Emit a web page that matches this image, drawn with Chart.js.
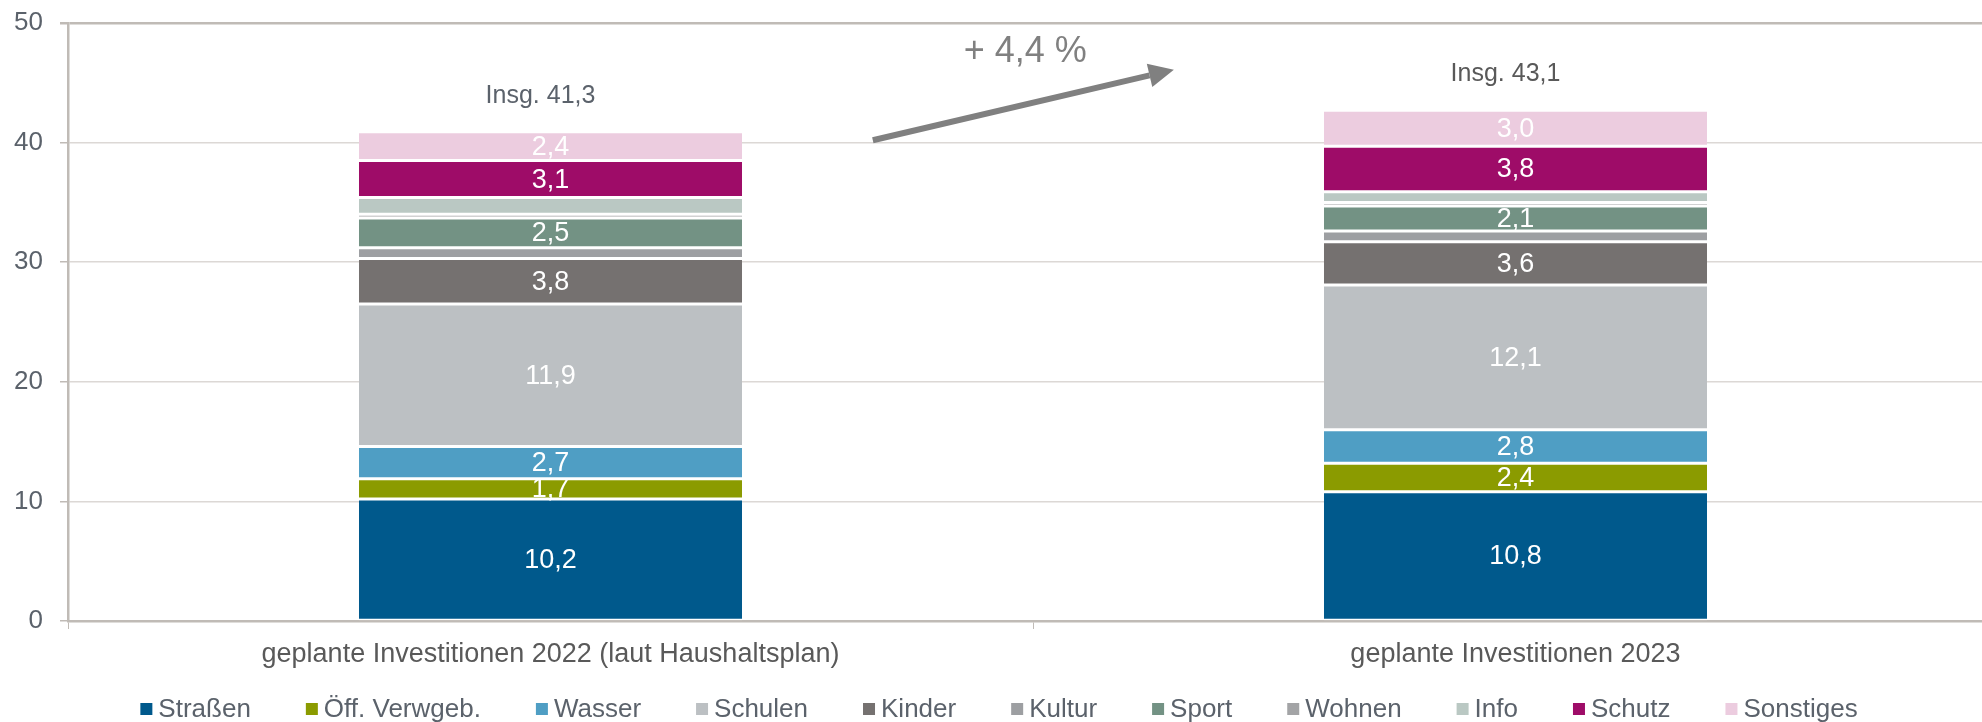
<!DOCTYPE html>
<html>
<head>
<meta charset="utf-8">
<script src="https://cdn.jsdelivr.net/npm/chart.js@4"></script>
<style>
    html, body { margin: 0; padding: 0; background: #fff; overflow: hidden; }
    #wrap { position: relative; width: 1998px; height: 722px; }
</style>
</head>
<body>
<div id="wrap"><canvas id="investChart"></canvas></div>
<script>
const categories = ['geplante Investitionen 2022 (laut Haushaltsplan)', 'geplante Investitionen 2023'];
const seriesNames = ['Straßen', 'Öff. Verwgeb.', 'Wasser', 'Schulen', 'Kinder', 'Kultur', 'Sport', 'Wohnen', 'Info', 'Schutz', 'Sonstiges'];
const strassen = [10.2, 10.8];
const oeffVerwgeb = [1.7, 2.4];
const wasser = [2.7, 2.8];
const schulen = [11.9, 12.1];
const kinder = [3.8, 3.6];
const kultur = [0.9, 0.9];
const sport = [2.5, 2.1];
const wohnen = [0.3, 0.3];
const info = [1.4, 0.9];
const schutz = [3.1, 3.8];
const sonstiges = [2.4, 3.0];
const totals = [41.3, 43.1];
const changeLabel = '+ 4,4 %';
const yTicks = [0, 10, 20, 30, 40, 50];
// segments shown without a value label
const unlabelled = ['Kultur', 'Wohnen', 'Info'];

const seriesValues = [strassen, oeffVerwgeb, wasser, schulen, kinder, kultur, sport, wohnen, info, schutz, sonstiges];
const seriesColors = ['#00598c', '#8b9b00', '#4f9ec4', '#bcc0c3', '#757170', '#9d9fa2',
                      '#739284', '#a3a4a6', '#bac8c3', '#9e0c68', '#ecccdf'];

const FONT = 'Arial, "Liberation Sans", sans-serif';
const AXIS_GREY = '#c0bbb6';
const TEXT_GREY = '#5b626b';

const fmt = v => v.toFixed(1).replace('.', ',');

const barLabels = {
    id: 'barLabels',
    afterDatasetsDraw(chart) {
        const ctx = chart.ctx;
        const yScale = chart.scales.y;
        ctx.save();
        ctx.textAlign = 'center';
        ctx.textBaseline = 'middle';

        // values inside the segments
        ctx.font = '27px ' + FONT;
        ctx.fillStyle = '#ffffff';
        chart.data.datasets.forEach((ds, i) => {
            if (unlabelled.includes(ds.label)) return;
            chart.getDatasetMeta(i).data.forEach((bar, j) => {
                const p = bar.getProps(['x', 'y', 'base'], true);
                ctx.fillText(fmt(ds.data[j]), p.x, (p.y + p.base) / 2 + 1);
            });
        });

        // totals above each stack
        ctx.font = '25px ' + FONT;
        const lastMeta = chart.getDatasetMeta(chart.data.datasets.length - 1);
        const xs = lastMeta.data.map(b => b.x);
        totals.forEach((t, j) => {
            const topVal = seriesValues.reduce((s, arr) => s + arr[j], 0);
            const yTop = yScale.getPixelForValue(topVal);
            ctx.fillStyle = j === 0 ? TEXT_GREY : '#595959';
            ctx.fillText('Insg. ' + fmt(t), xs[j] - 10, yTop - 36);
        });

        // change arrow between the stacks
        const x0 = xs[0], x1 = xs[1];
        const sx = x0 + (x1 - x0) * 0.334, sy = yScale.getPixelForValue(40.2);
        const ex = x0 + (x1 - x0) * 0.646, ey = yScale.getPixelForValue(46.1);
        const ang = Math.atan2(ey - sy, ex - sx);
        const headLen = 25, headHalf = 12;
        const bx = ex - headLen * Math.cos(ang), by = ey - headLen * Math.sin(ang);
        ctx.strokeStyle = '#808080';
        ctx.fillStyle = '#808080';
        ctx.lineWidth = 6;
        ctx.beginPath();
        ctx.moveTo(sx, sy);
        ctx.lineTo(bx, by);
        ctx.stroke();
        ctx.beginPath();
        ctx.moveTo(ex, ey);
        ctx.lineTo(bx + headHalf * Math.sin(ang), by - headHalf * Math.cos(ang));
        ctx.lineTo(bx - headHalf * Math.sin(ang), by + headHalf * Math.cos(ang));
        ctx.closePath();
        ctx.fill();

        ctx.font = '36px ' + FONT;
        ctx.fillText(changeLabel, x0 + (x1 - x0) * 0.492, yScale.getPixelForValue(47.6));
        ctx.restore();
    }
};

// legend row under the x axis (Excel-like spacing between entries)
const bottomLegend = {
    id: 'bottomLegend',
    afterDraw(chart) {
        const ctx = chart.ctx;
        const box = 12, boxGap = 6, itemGap = 55;
        ctx.save();
        ctx.font = '26px ' + FONT;
        ctx.textBaseline = 'middle';
        ctx.textAlign = 'left';
        const items = chart.data.datasets.map(ds => ({
            label: ds.label,
            color: ds.backgroundColor,
            w: box + boxGap + ctx.measureText(ds.label).width
        }));
        const total = items.reduce((s, it) => s + it.w, 0) + itemGap * (items.length - 1);
        let x = (chart.width - total) / 2;
        const y = chart.height - 13;
        items.forEach(it => {
            ctx.fillStyle = it.color;
            ctx.fillRect(x, y - box / 2, box, box);
            ctx.fillStyle = TEXT_GREY;
            ctx.fillText(it.label, x + box + boxGap, y + 1);
            x += it.w + itemGap;
        });
        ctx.restore();
    }
};

const ctx = document.getElementById('investChart').getContext('2d');

new Chart(ctx, {
    type: 'bar',
    data: {
        labels: categories,
        datasets: seriesNames.map((name, i) => ({
            label: name,
            data: seriesValues[i],
            backgroundColor: seriesColors[i],
            borderColor: '#ffffff',
            borderWidth: { top: 1.5, bottom: 1.5, left: 0, right: 0 },
            borderSkipped: false,
            categoryPercentage: 1,
            barPercentage: 0.397
        }))
    },
    options: {
        responsive: true,
        maintainAspectRatio: false,
        animation: false,
        layout: { padding: { top: 23, left: 0, right: 0, bottom: 51 } },
        plugins: {
            tooltip: { enabled: false },
            legend: { display: false }
        },
        scales: {
            x: {
                stacked: true,
                afterFit: (scale) => { scale.height = 50; },
                border: { color: AXIS_GREY, width: 2.5 },
                grid: {
                    offset: true,
                    drawOnChartArea: false,
                    drawTicks: true,
                    tickLength: 8,
                    color: AXIS_GREY
                },
                ticks: { color: '#595959', font: { size: 27, family: FONT }, padding: 9 }
            },
            y: {
                stacked: true,
                min: 0,
                max: 50,
                afterBuildTicks: (scale) => { scale.ticks = yTicks.map(v => ({ value: v })); },
                afterFit: (scale) => {
                    scale.width = 68;
                    scale.paddingTop = 0;
                    scale.paddingBottom = 0;
                },
                border: { color: AXIS_GREY, width: 2.5 },
                grid: {
                    color: (c) => (c.tick && c.tick.value === 50) ? AXIS_GREY : '#dcd8d5',
                    lineWidth: (c) => (c.tick && c.tick.value === 50) ? 2.5 : 1.5,
                    tickColor: AXIS_GREY,
                    tickLength: 8
                },
                ticks: { color: TEXT_GREY, font: { size: 26, family: FONT }, padding: 17 }
            }
        }
    },
    plugins: [barLabels, bottomLegend]
});
</script>
</body>
</html>
